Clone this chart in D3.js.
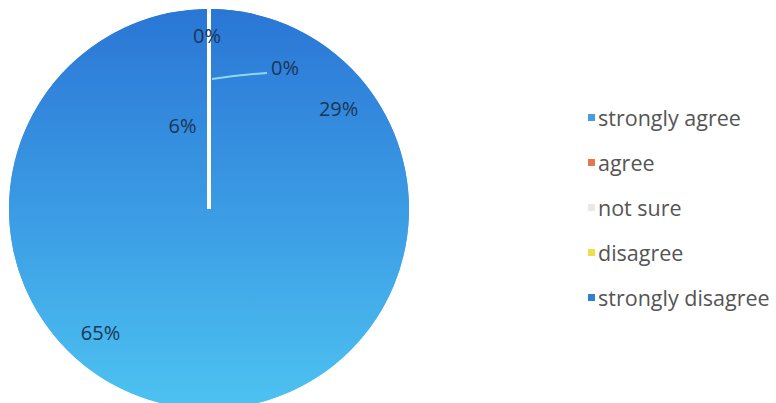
<!DOCTYPE html>
<html>
<head>
<meta charset="utf-8">
<script src="https://cdn.jsdelivr.net/npm/d3@7"></script>
<style>
  body { margin: 0; background: #fff; }
  svg { display: block; }
</style>
</head>
<body>
<div id="chart"></div>
<script>
// data
var categories = ["strongly agree", "agree", "not sure", "disagree", "strongly disagree"];
var shares = [29, 65, 6, 0, 0];
var legendColors = ["#4a9be0", "#e8764c", "#e6e8ea", "#f3dc4a", "#2f80cf"];

var svgWidth = 776;
var svgHeight = 403;
var cx = 209, cy = 209, radius = 200;

var svg = d3.select("#chart")
  .append("svg")
  .attr("width", svgWidth)
  .attr("height", svgHeight);

// vertical gradient over the whole pie
var defs = svg.append("defs");
var grad = defs.append("linearGradient")
  .attr("id", "pieFill")
  .attr("gradientUnits", "userSpaceOnUse")
  .attr("x1", 0).attr("y1", -radius)
  .attr("x2", 0).attr("y2", radius);
grad.append("stop").attr("offset", "0%").attr("stop-color", "#2a76d5");
grad.append("stop").attr("offset", "50%").attr("stop-color", "#3b9be4");
grad.append("stop").attr("offset", "100%").attr("stop-color", "#4dc3f1");

var pieGroup = svg.append("g")
  .attr("transform", `translate(${cx}, ${cy})`);

var pie = d3.pie().sort(null).value(d => d);
var arcs = pie(shares);

var arc = d3.arc().innerRadius(0).outerRadius(radius);

// backdrop so slice seams don't show
pieGroup.append("circle")
  .attr("r", radius)
  .attr("fill", "url(#pieFill)");

pieGroup.selectAll("path")
  .data(arcs)
  .enter()
  .append("path")
  .attr("d", arc)
  .attr("fill", "url(#pieFill)")
  .attr("stroke", d => d.value === 0 ? "#fff" : "none")
  .attr("stroke-width", 4);

// labels
var zeroCount = 0;
arcs.forEach(function(d) {
  var mid = (d.startAngle + d.endAngle) / 2;
  var r;
  var x, y;
  if (d.value === 0) {
    if (zeroCount === 0) {
      r = radius * 0.87;
      x = Math.sin(mid) * r - 2;
      y = -Math.cos(mid) * r;
    } else {
      // pushed aside with a leader line
      x = 76;
      y = -142;
      pieGroup.append("path")
        .attr("d", `M3,-130 Q30,-134 58,-136`)
        .attr("fill", "none")
        .attr("stroke", "#8fd8f2")
        .attr("stroke-width", 2);
    }
    zeroCount++;
  } else {
    r = d.endAngle - d.startAngle < 0.5 ? radius * 0.44 : radius * 0.82;
    var lab = d3.arc().innerRadius(r).outerRadius(r);
    var c = lab.centroid(d);
    x = c[0];
    y = c[1];
    if (d.endAngle - d.startAngle < 0.5) { x -= 10; y += 3; }
  }
  pieGroup.append("text")
    .attr("x", x)
    .attr("y", y)
    .attr("text-anchor", "middle")
    .attr("dominant-baseline", "central")
    .attr("font-family", "Open Sans, sans-serif")
    .attr("font-size", "20px")
    .attr("fill", "#1b3556")
    .text(d.value + "%");
});

// legend
var legend = svg.append("g")
  .attr("transform", "translate(588, 117)");

var rows = legend.selectAll("g")
  .data(categories)
  .enter()
  .append("g")
  .attr("transform", (d, i) => `translate(0, ${i * 45})`);

rows.append("rect")
  .attr("x", 0)
  .attr("y", -3)
  .attr("width", 7)
  .attr("height", 7)
  .attr("fill", (d, i) => legendColors[i]);

rows.append("text")
  .attr("x", 10)
  .attr("y", 0)
  .attr("dominant-baseline", "central")
  .attr("font-family", "Open Sans, sans-serif")
  .attr("font-size", "21.5px")
  .attr("fill", "#555")
  .text(d => d);
</script>
</body>
</html>
